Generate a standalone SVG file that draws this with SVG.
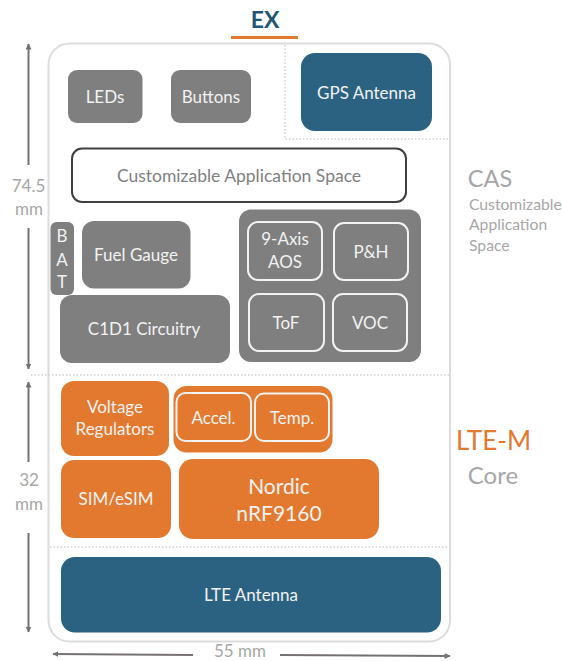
<svg xmlns="http://www.w3.org/2000/svg" width="563" height="661" viewBox="0 0 563 661">
<style>
text{font-family:"Lato","Liberation Sans",sans-serif;text-anchor:middle}
.g{fill:#7f7f7f}.o{fill:#e2792e}.b{fill:#2b6282}
.in{fill:none;stroke:#f2f2f2;stroke-width:2}
.w{fill:#f2f2f2;font-size:17px}
.big{font-size:21px}
.l{fill:#a6a6a6}
.s{font-size:15.700px;text-anchor:start}
.dot{fill:none;stroke:#d0d0d0;stroke-width:1.5;stroke-dasharray:1.5 2}
.ar{fill:none;stroke:#767171;stroke-width:2;marker-end:url(#a)}
</style>
<defs><marker id="a" markerWidth="7" markerHeight="7" refX="5.5" refY="3" orient="auto" markerUnits="userSpaceOnUse"><path d="M0 0L6 3L0 6Z" fill="#767171"/></marker></defs>
<rect width="563" height="661" fill="#fff"/>
<rect id="board" x="48.5" y="43.5" width="401.500" height="598" rx="21" fill="#fff" stroke="#dcdcdc" stroke-width="2"/>
<g id="connectors">
<path class="dot" d="M31 375H449M50 547H448M285 45V139H448"/>
<path class="ar" d="M28.500 165V44"/><path class="ar" d="M28.500 228V369"/>
<path class="ar" d="M28.500 462V382"/><path class="ar" d="M28.500 533V632"/>
<path class="ar" d="M193 655L53 654"/><path class="ar" d="M280 655L450 656"/>
</g>
<g id="title"><text x="265" y="28" font-size="23" font-weight="700" fill="#1f5673">EX</text><rect x="231" y="36" width="67" height="3" fill="#e2792e"/></g>
<g id="leds"><rect class="g" x="68" y="70" width="74.500" height="53" rx="9"/><text class="w" x="105" y="103">LEDs</text></g>
<g id="buttons"><rect class="g" x="171" y="70" width="80" height="53" rx="9"/><text class="w" x="211" y="103">Buttons</text></g>
<g id="gps"><rect class="b" x="301" y="53" width="131" height="78" rx="14"/><text class="w" x="366.500" y="98.500">GPS Antenna</text></g>
<g id="cas-box"><rect x="72" y="148.500" width="334" height="53.500" rx="10" fill="#fff" stroke="#404040" stroke-width="2"/><text x="239" y="182" font-size="17.500" fill="#7f7f7f">Customizable Application Space</text></g>
<g id="bat"><rect class="g" x="50.500" y="222" width="23.500" height="73" rx="6"/><text class="w" x="62" y="242">B</text><text class="w" x="62" y="266">A</text><text class="w" x="62" y="288">T</text></g>
<g id="fuel"><rect class="g" x="82" y="221" width="108.500" height="67.500" rx="12"/><text class="w" x="136" y="261">Fuel Gauge</text></g>
<g id="c1d1"><rect class="g" x="60" y="295" width="170" height="68" rx="12"/><text class="w" x="144" y="335">C1D1 Circuitry</text></g>
<g id="sensors"><rect class="g" x="239" y="209.500" width="182" height="152.500" rx="12"/></g>
<g id="aos"><rect class="in" x="248" y="222" width="74" height="58" rx="10"/><text class="w" x="285" y="245">9-Axis</text><text class="w" x="285" y="268">AOS</text></g>
<g id="ph"><rect class="in" x="334" y="223" width="74" height="57" rx="10"/><text class="w" x="371" y="258">P&amp;H</text></g>
<g id="tof"><rect class="in" x="249" y="294" width="75" height="57" rx="10"/><text class="w" x="286" y="329">ToF</text></g>
<g id="voc"><rect class="in" x="333" y="294" width="74" height="57" rx="10"/><text class="w" x="370" y="329">VOC</text></g>
<g id="volt"><rect class="o" x="61" y="381" width="108" height="75" rx="13"/><text class="w" x="115" y="413">Voltage</text><text class="w" x="115" y="435">Regulators</text></g>
<g id="accgrp"><rect class="o" x="173.500" y="386" width="159" height="66.500" rx="13"/></g>
<g id="accel"><rect class="in" x="176.500" y="393" width="74.500" height="48" rx="9"/><text class="w" x="213.500" y="424">Accel.</text></g>
<g id="temp"><rect class="in" x="255" y="393.500" width="74" height="47.500" rx="9"/><text class="w" x="292" y="424">Temp.</text></g>
<g id="sim"><rect class="o" x="61" y="460" width="110" height="78" rx="13"/><text class="w" x="116" y="505">SIM/eSIM</text></g>
<g id="nordic"><rect class="o" x="179" y="459" width="200" height="80" rx="14"/><text class="w big" x="279" y="494">Nordic</text><text class="w big" x="279" y="521">nRF9160</text></g>
<g id="lte"><rect class="b" x="61" y="557" width="380" height="75.500" rx="14"/><text class="w" x="251" y="601">LTE Antenna</text></g>
<g id="labels">
<text class="l" x="28.500" y="192" font-size="17">74.5</text><text class="l" x="29" y="215" font-size="17">mm</text>
<text class="l" x="29" y="486" font-size="17">32</text><text class="l" x="29" y="510" font-size="17">mm</text>
<text class="l" x="240" y="657" font-size="17">55 mm</text>
<text class="l" x="490" y="187" font-size="23.500">CAS</text>
<text class="l s" x="469" y="210">Customizable</text>
<text class="l s" x="469" y="230">Application</text>
<text class="l s" x="469" y="251">Space</text>
<text x="493.500" y="450" font-size="26" fill="#e2792e">LTE-M</text>
<text class="l" x="493" y="484" font-size="24">Core</text>
</g>
</svg>
